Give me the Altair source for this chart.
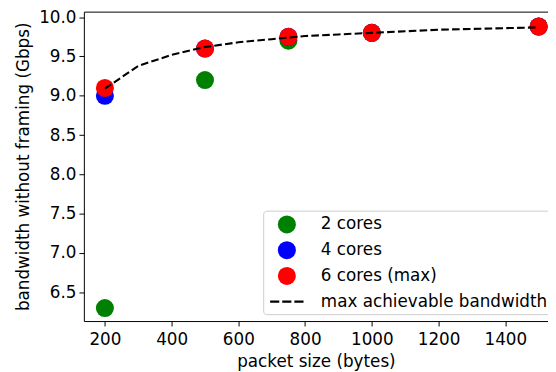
import altair as alt
import pandas as pd

# ---- data ----
packet_sizes = [200, 500, 750, 1000, 1500]
bw_2cores = [6.3, 9.2, 9.7, 9.8, 9.88]
bw_4cores = [9.0, 9.6, 9.75, 9.8, 9.88]
bw_6cores = [9.1, 9.6, 9.75, 9.8, 9.88]

max_sizes = [200, 300, 400, 500, 600, 700, 800, 900, 1000, 1100, 1200, 1300, 1400, 1500]
max_bw = [9.09, 9.38, 9.52, 9.62, 9.68, 9.72, 9.76, 9.78, 9.80, 9.82, 9.84, 9.85, 9.86, 9.87]

series_names = ["2 cores", "4 cores", "6 cores (max)", "max achievable bandwidth"]
series_colors = ["green", "blue", "red", "black"]

x_ticks = [200, 400, 600, 800, 1000, 1200, 1400]
y_ticks = [6.5, 7.0, 7.5, 8.0, 8.5, 9.0, 9.5, 10.0]

# ---- tables ----
rows = []
for name, vals in zip(series_names[:3], [bw_2cores, bw_4cores, bw_6cores]):
    for s, v in zip(packet_sizes, vals):
        rows.append({"size": s, "bw": v, "series": name})
points_df = pd.DataFrame(rows)
line_df = pd.DataFrame({"size": max_sizes, "bw": max_bw})

FONT = "DejaVu Sans"
FS = 17

# dashed legend symbol (three short bars) in symbol units
DASH = ("M-1.858,-0.115H-0.842V0.115H-1.858Z "
        "M-0.514,-0.115H0.502V0.115H-0.514Z "
        "M0.830,-0.115H1.846V0.115H0.830Z")
shapes = ["circle", "circle", "circle", DASH]

xs = alt.Scale(domain=[137, 1528], nice=False, zero=False)
ys = alt.Scale(domain=[6.135, 10.07], nice=False, zero=False)

y_axis = alt.Axis(values=y_ticks, format=".1f", title="bandwidth without framing (Gbps)",
                  grid=False, tickSize=5, labelPadding=3, titlePadding=6.5,
                  labelFontSize=FS, titleFontSize=FS, titleFontWeight="normal",
                  domainColor="black", tickColor="black", labelColor="black",
                  titleColor="black")

legend = alt.Legend(title=None, orient="none", legendX=182, legendY=202,
                    padding=4.5, symbolOffset=10, labelOffset=25, rowPadding=7.1,
                    symbolSize=335, labelFontSize=FS, labelColor="black", labelLimit=0,
                    fillColor="white", strokeColor="#cccccc", cornerRadius=3,
                    symbolStrokeWidth=0)

points = alt.Chart(points_df).mark_point(filled=True, size=335, opacity=1, clip=False).encode(
    x=alt.X("size:Q", scale=xs,
            axis=alt.Axis(orient="top", labels=False, ticks=False, title=None,
                          grid=False, domainColor="black")),
    y=alt.Y("bw:Q", scale=ys, axis=y_axis),
    color=alt.Color("series:N", scale=alt.Scale(domain=series_names, range=series_colors),
                    legend=legend),
    shape=alt.Shape("series:N", scale=alt.Scale(domain=series_names, range=shapes),
                    legend=legend),
)

line = alt.Chart(line_df).mark_line(color="black", strokeDash=[7.7, 3.3], strokeWidth=2.1,
                                    clip=False).encode(
    x=alt.X("size:Q", scale=xs,
            axis=alt.Axis(values=x_ticks, format="d", title="packet size (bytes)", grid=False,
                          tickSize=5, labelPadding=6, titlePadding=6,
                          labelFontSize=FS, titleFontSize=FS, titleFontWeight="normal",
                          domainColor="black", tickColor="black", labelColor="black",
                          titleColor="black")),
    y=alt.Y("bw:Q", scale=ys, axis=y_axis),
)

chart = alt.layer(points, line).resolve_axis(
    x="independent"
).properties(
    width=471, height=314,
    padding={"left": 77, "top": 1, "right": 0, "bottom": 48},
    autosize=alt.AutoSizeParams(type="none"),
).configure(font=FONT).configure_view(stroke=None)

chart.save("out.html", embed_options={"renderer": "svg", "actions": False})
